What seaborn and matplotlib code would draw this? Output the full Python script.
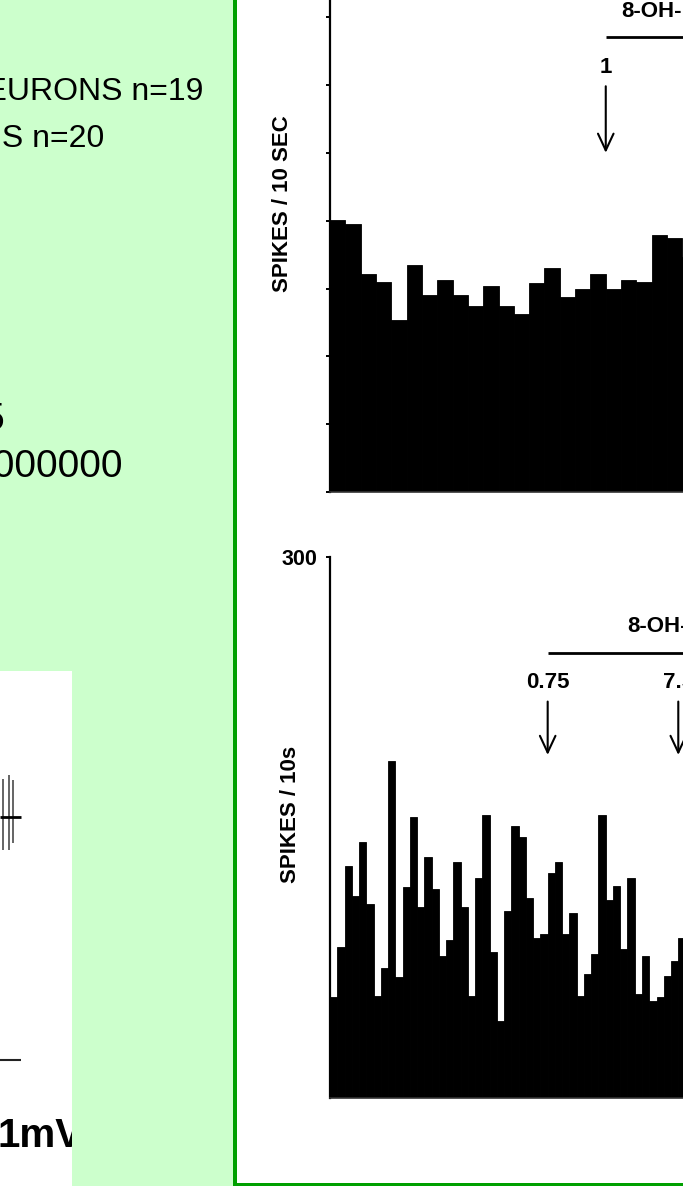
import numpy as np
import pandas as pd
import seaborn as sns
import matplotlib.pyplot as plt
from matplotlib.patches import Rectangle

# ---- firing-rate data (spikes per 10-s bin) ----
BIN_S = 10
upper_rate = [40.1, 39.5, 32.2, 31.0, 25.4, 33.5, 29.1, 31.3, 29.1, 27.4,
              30.4, 27.5, 26.2, 30.8, 33.1, 28.8, 30.0, 32.2, 29.9, 31.2,
              30.9, 37.9, 37.5, 34.7]
lower_rate = [56, 84, 129, 112, 142, 108, 57, 72, 187, 67,
              117, 156, 106, 134, 116, 79, 88, 131, 106, 57,
              122, 157, 81, 43, 104, 151, 145, 111, 89, 91,
              125, 131, 91, 103, 57, 69, 80, 157, 110, 118,
              83, 122, 58, 79, 54, 56, 68, 76, 89]
upper_yticks = [0, 10, 20, 30, 40, 50, 60, 70]
lower_yticks = [300]
lower_yticklabels = ["300"]

# injection times (s) and doses
upper_inj_t = [180]
upper_inj_dose = ["1"]
lower_inj_t = [300, 480]
lower_inj_dose = ["0.75", "7.5"]
drug = "8-OH-DPAT"

# summary text on the side panel
summary_lines = ["5-HT NEURONS n=19", "NON-5-HT NEURONS n=20"]
stat_lines = ["t = 2.45", "p = 0.0000000"]

# extracellular trace (ms, mV)
spike_t = [0.33, 0.90, 1.27]
spike_top = [0.94, 1.04, 0.92]
spike_bottom = [-0.83, -0.83, -0.66]
baseline_t = [0.0, 2.07]
scalebar_t = [0.0, 2.07]
scalebar_v = -6.08
scale_label = "1mV"

# ---- figure set-up ----
W, H = 683, 1186
sns.set_style("ticks")
plt.rcParams["font.family"] = ["Liberation Sans", "DejaVu Sans"]
plt.rcParams.update({"text.color": "black", "axes.labelcolor": "black",
                     "xtick.color": "black", "ytick.color": "black",
                     "axes.edgecolor": "black"})

fig = plt.figure(figsize=(W / 100, H / 100), dpi=100)
fig.patch.set_facecolor("white")


def fx(x):
    return x / W


def fy(y):
    return 1 - y / H


# side panel background and frame of the figure box
fig.add_artist(Rectangle((0, 0), fx(235), 1, transform=fig.transFigure,
                         facecolor="#CCFFCC", edgecolor="none", zorder=-5))
fig.add_artist(Rectangle((fx(233.3), 0), 4 / W, 1, transform=fig.transFigure,
                         facecolor="#00A000", edgecolor="none", zorder=10))
fig.add_artist(Rectangle((fx(233.3), 0), 1, 3.3 / H, transform=fig.transFigure,
                         facecolor="#00A000", edgecolor="none", zorder=10))

# side panel text
for txt, xr, yb in zip(summary_lines, [203, 104], [100, 147]):
    fig.text(fx(xr), fy(yb), txt, ha="right", va="baseline",
             fontsize=23, color="black")
for txt, xr, yb in zip(stat_lines, [4.5, 122.5], [430, 476.7]):
    fig.text(fx(xr), fy(yb), txt, ha="right", va="baseline",
             fontsize=28, color="black")

# ---- trace inset ----
ax_in = fig.add_axes([0, 0, 72 / W, 515 / H])
ax_in.set_facecolor("white")
ax_in.set_xlim(0, 7.2)
ax_in.set_ylim(-9.23, 3.64)
ax_in.vlines(spike_t, spike_bottom, spike_top, color="#3a3a3a", lw=1.1)
ax_in.hlines(0, baseline_t[0], baseline_t[1], color="black", lw=2)
ax_in.hlines(scalebar_v, scalebar_t[0], scalebar_t[1], color="#222222", lw=1.5)
ax_in.text(-0.3, -8.25, scale_label, ha="left", va="baseline", fontsize=29,
           fontweight="bold", color="black", clip_on=True)
ax_in.set_xticks([])
ax_in.set_yticks([])
for s in ax_in.spines.values():
    s.set_visible(False)

# ---- histograms ----
bold = dict(fontweight="bold", fontsize=16, color="black")


def rate_hist(ax, rate, px_per_s, px_per_unit, height_px):
    t = np.arange(len(rate)) * BIN_S + BIN_S / 2
    df = pd.DataFrame({"t": t, "rate": rate})
    sns.barplot(data=df, x="t", y="rate", native_scale=True, width=1,
                color="black", saturation=1, errorbar=None,
                edgecolor="black", linewidth=0.6, ax=ax)
    ax.set_xlim(0, 400 / px_per_s)
    ax.set_ylim(0, height_px / px_per_unit)
    ax.set_xlabel("")
    ax.set_ylabel("")
    ax.set_xticks([])
    ax.set_facecolor("none")
    sns.despine(ax=ax)
    ax.spines["left"].set_linewidth(1.6)
    ax.spines["bottom"].set_linewidth(1.2)
    ax.spines["bottom"].set_color("#333333")
    ax.tick_params(axis="y", length=3.1, width=1.4, direction="out",
                   pad=6, color="black", labelcolor="black")


arrow = dict(arrowstyle="->,head_length=0.6,head_width=0.28", lw=1.5,
             color="black", shrinkA=0, shrinkB=0, mutation_scale=20)

# upper record
ax_up = fig.add_axes([fx(330), fy(492.3), 400 / W, 522.3 / H])
rate_hist(ax_up, upper_rate, 1.532, 6.79, 522.3)
ax_up.set_yticks(upper_yticks)
ax_up.set_yticklabels([""] * len(upper_yticks))
ax_up.hlines(67.1, upper_inj_t[0], 400 / 1.532, color="black", lw=2)
ax_up.text(190, 70.0, drug, ha="left", va="baseline", **bold)
for t, d in zip(upper_inj_t, upper_inj_dose):
    ax_up.text(t, 61.8, d, ha="center", va="baseline", **bold)
    ax_up.annotate("", xy=(t, 50), xytext=(t, 59.8), arrowprops=arrow)
fig.text(fx(282.5), fy(203.4), "SPIKES / 10 SEC", rotation=90,
         ha="center", va="center", **bold)

# lower record
ax_lo = fig.add_axes([fx(330), fy(1098.3), 400 / W, 541 / H])
rate_hist(ax_lo, lower_rate, 0.7256, 1.8033, 541)
ax_lo.set_yticks(lower_yticks)
ax_lo.set_yticklabels(lower_yticklabels, fontweight="bold", fontsize=15.5,
                      color="black")
ax_lo.hlines(246.8, lower_inj_t[0], 400 / 0.7256, color="black", lw=2)
ax_lo.text(410, 258.7, drug, ha="left", va="baseline", **bold)
for t, d in zip(lower_inj_t, lower_inj_dose):
    ax_lo.text(t, 227.4, d, ha="center", va="baseline", **bold)
    ax_lo.annotate("", xy=(t, 190.4), xytext=(t, 220), arrowprops=arrow)
fig.text(fx(291), fy(814), "SPIKES / 10s", rotation=90,
         ha="center", va="center", **bold)

fig.savefig("out.png", dpi=100)
